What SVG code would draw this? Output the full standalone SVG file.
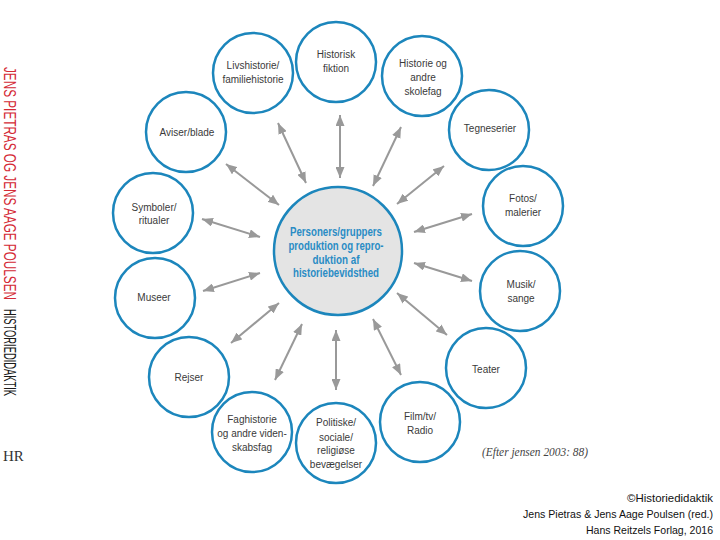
<svg xmlns="http://www.w3.org/2000/svg" width="720" height="540" viewBox="0 0 720 540">
<defs>
<marker id="ah" viewBox="0 0 11 9" refX="11" refY="4.5" markerWidth="11" markerHeight="9" markerUnits="userSpaceOnUse" orient="auto-start-reverse">
<path d="M0,0 L11,4.5 L0,9 Z" fill="#999999"/>
</marker>
</defs>
<style>
.n{fill:#ffffff;stroke:#1c86bc;stroke-width:2.5}
.c{fill:#e4e4e4;stroke:#1c86bc;stroke-width:2.5}
.t{font-family:"Liberation Sans",Arial,sans-serif;font-size:10px;fill:#3a3a3a;text-anchor:middle}
.ct{font-family:"Liberation Sans",Arial,sans-serif;font-size:12px;font-weight:bold;fill:#2a8cc4;text-anchor:middle}
.a{stroke:#999999;stroke-width:2;fill:none;marker-start:url(#ah);marker-end:url(#ah)}
.f{font-family:"Liberation Sans",Arial,sans-serif;font-size:11px;fill:#111111;text-anchor:end}
</style>
<rect width="720" height="540" fill="#ffffff"/>

<g id="connectors">
<line class="a" x1="278" y1="123" x2="306" y2="183"/>
<line class="a" x1="340" y1="115" x2="340" y2="178"/>
<line class="a" x1="401" y1="127" x2="373" y2="186"/>
<line class="a" x1="444" y1="166" x2="397" y2="204"/>
<line class="a" x1="472" y1="214" x2="414" y2="232"/>
<line class="a" x1="472" y1="281" x2="414" y2="263"/>
<line class="a" x1="447" y1="335" x2="397" y2="293"/>
<line class="a" x1="401" y1="375" x2="373" y2="319"/>
<line class="a" x1="336" y1="390" x2="336" y2="330"/>
<line class="a" x1="275" y1="380" x2="302" y2="324"/>
<line class="a" x1="231" y1="343" x2="279" y2="303"/>
<line class="a" x1="203" y1="291" x2="260" y2="273"/>
<line class="a" x1="202" y1="219" x2="260" y2="237"/>
<line class="a" x1="226" y1="164" x2="279" y2="205"/>
</g>

<g id="center">
<circle class="c" cx="338" cy="251" r="64"/>
<text class="ct" x="336" y="236" textLength="92" lengthAdjust="spacingAndGlyphs">Personers/gruppers</text>
<text class="ct" x="336" y="250" textLength="95" lengthAdjust="spacingAndGlyphs">produktion og repro-</text>
<text class="ct" x="336" y="264" textLength="47" lengthAdjust="spacingAndGlyphs">duktion af</text>
<text class="ct" x="336" y="277" textLength="86" lengthAdjust="spacingAndGlyphs">historiebevidsthed</text>
</g>

<g id="historisk">
<circle class="n" cx="336" cy="62" r="40"/>
<text class="t" x="336" y="58">Historisk</text>
<text class="t" x="336" y="72">fiktion</text>
</g>
<g id="livshistorie">
<circle class="n" cx="253" cy="73" r="40"/>
<text class="t" x="253" y="69">Livshistorie/</text>
<text class="t" x="253" y="83">familiehistorie</text>
</g>
<g id="skolefag">
<circle class="n" cx="422" cy="76" r="40"/>
<text class="t" x="423" y="67">Historie og</text>
<text class="t" x="423" y="81">andre</text>
<text class="t" x="423" y="95">skolefag</text>
</g>
<g id="aviser">
<circle class="n" cx="186" cy="132" r="40"/>
<text class="t" x="187" y="136">Aviser/blade</text>
</g>
<g id="tegneserier">
<circle class="n" cx="489" cy="130" r="40"/>
<text class="t" x="490" y="132">Tegneserier</text>
</g>
<g id="symboler">
<circle class="n" cx="153" cy="213" r="40"/>
<text class="t" x="154" y="211">Symboler/</text>
<text class="t" x="154" y="224">ritualer</text>
</g>
<g id="fotos">
<circle class="n" cx="523" cy="206" r="40"/>
<text class="t" x="523" y="202">Fotos/</text>
<text class="t" x="523" y="216">malerier</text>
</g>
<g id="museer">
<circle class="n" cx="155" cy="298" r="40"/>
<text class="t" x="154" y="301">Museer</text>
</g>
<g id="musik">
<circle class="n" cx="520" cy="291" r="40"/>
<text class="t" x="521" y="288">Musik/</text>
<text class="t" x="521" y="302">sange</text>
</g>
<g id="rejser">
<circle class="n" cx="189" cy="377" r="40"/>
<text class="t" x="189" y="381">Rejser</text>
</g>
<g id="teater">
<circle class="n" cx="486" cy="368" r="40"/>
<text class="t" x="486" y="373">Teater</text>
</g>
<g id="faghistorie">
<circle class="n" cx="252" cy="432" r="40"/>
<text class="t" x="252" y="423">Faghistorie</text>
<text class="t" x="252" y="437">og andre viden-</text>
<text class="t" x="252" y="451">skabsfag</text>
</g>
<g id="politiske">
<circle class="n" cx="336" cy="443" r="40"/>
<text class="t" x="336" y="426">Politiske/</text>
<text class="t" x="336" y="441">sociale/</text>
<text class="t" x="336" y="454">religiøse</text>
<text class="t" x="336" y="468">bevægelser</text>
</g>
<g id="film">
<circle class="n" cx="420" cy="422" r="40"/>
<text class="t" x="420" y="420">Film/tv/</text>
<text class="t" x="420" y="434">Radio</text>
</g>

<text x="482" y="456" font-family="Liberation Serif,serif" font-style="italic" font-size="12" fill="#444444" textLength="106" lengthAdjust="spacingAndGlyphs">(Efter jensen 2003: 88)</text>

<g id="sidebar">
<text transform="translate(4,67) rotate(90)" font-family="Liberation Sans,Arial,sans-serif" font-size="16" fill="#d42a36" textLength="233" lengthAdjust="spacingAndGlyphs">JENS PIETRAS OG JENS AAGE POULSEN</text>
<text transform="translate(4,309) rotate(90)" font-family="Liberation Sans,Arial,sans-serif" font-size="16" fill="#1a1a1a" textLength="87" lengthAdjust="spacingAndGlyphs">HISTORIEDIDAKTIK</text>
</g>

<text x="3" y="461" font-family="Liberation Serif,serif" font-size="15" fill="#333333">HR</text>

<g id="credits">
<text class="f" x="713" y="502" textLength="86" lengthAdjust="spacingAndGlyphs">©Historiedidaktik</text>
<text class="f" x="713" y="518" textLength="190" lengthAdjust="spacingAndGlyphs">Jens Pietras &amp; Jens Aage Poulsen (red.)</text>
<text class="f" x="713" y="534" textLength="127" lengthAdjust="spacingAndGlyphs">Hans Reitzels Forlag, 2016</text>
</g>
</svg>
